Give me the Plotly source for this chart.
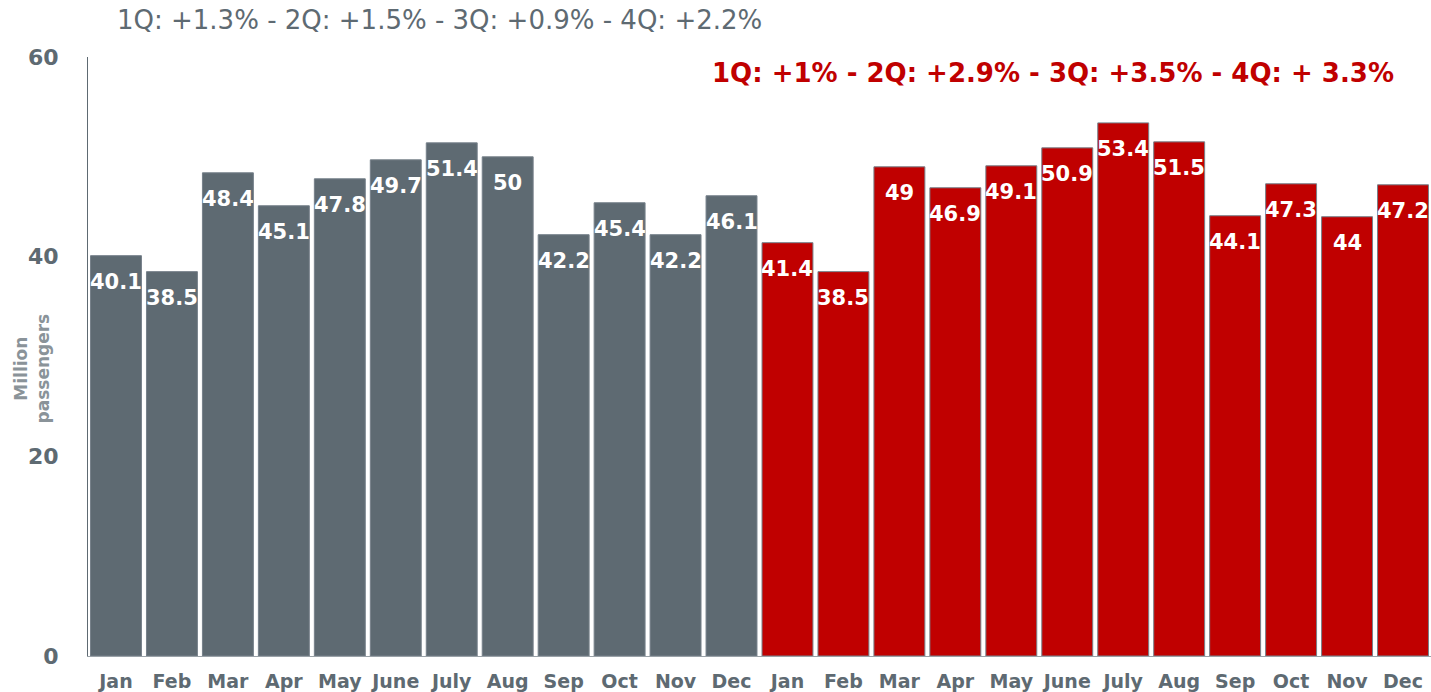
import plotly.graph_objects as go

months = ["Jan", "Feb", "Mar", "Apr", "May", "June", "July", "Aug", "Sep", "Oct", "Nov", "Dec"]
prev_year = [40.1, 38.5, 48.4, 45.1, 47.8, 49.7, 51.4, 50, 42.2, 45.4, 42.2, 46.1]
curr_year = [41.4, 38.5, 49, 46.9, 49.1, 50.9, 53.4, 51.5, 44.1, 47.3, 44, 47.2]
prev_note = "1Q: +1.3% - 2Q: +1.5% - 3Q: +0.9% - 4Q: +2.2%"
curr_note = "1Q: +1% <b>-</b> 2Q: +2.9% - 3Q: +3.5% - 4Q: + 3.3%"
y_title = "Million<br>passengers"

GREY = "#5e6a72"
RED = "#c00000"
FONT = "DejaVu Sans"
PLOT_W = 1431 - 88

x_prev = list(range(len(months)))
x_curr = [i + len(months) for i in range(len(months))]

fig = go.Figure()
annotations = []
for xs, ys, col in [(x_prev, prev_year, GREY), (x_curr, curr_year, RED)]:
    fig.add_trace(go.Bar(
        x=xs, y=ys, width=0.91,
        marker=dict(color=col, line=dict(color="#76808a", width=1)),
        showlegend=False, hoverinfo="y",
    ))
    # value labels sitting just inside the top of each bar
    for xv, yv in zip(xs, ys):
        annotations.append(dict(
            x=xv, y=yv, xref="x", yref="y", text=f"{yv:g}",
            showarrow=False, yanchor="top", yshift=-12,
            font=dict(color="white", size=21, family=FONT, weight="bold"),
        ))

annotations += [
    dict(text=prev_note, xref="paper", yref="paper", x=27 / PLOT_W, y=1, xanchor="left",
         yanchor="middle", yshift=37, showarrow=False,
         font=dict(size=26, color=GREY, family=FONT)),
    dict(text=curr_note, xref="paper", yref="paper", x=1, y=1, xanchor="right",
         yanchor="middle", xshift=-35, yshift=-16, showarrow=False,
         font=dict(size=26, color=RED, family=FONT, weight="bold")),
    # rotated axis title placed between the tick labels and the page edge
    dict(text=y_title, xref="paper", yref="paper", x=-56 / PLOT_W, y=0.48,
         xanchor="center", yanchor="middle", textangle=-90, showarrow=False,
         font=dict(size=17, color="#8a9399", family=FONT, weight="bold")),
]

fig.update_layout(
    width=1431, height=692,
    margin=dict(l=88, r=0, t=57, b=36),
    paper_bgcolor="white", plot_bgcolor="white",
    barmode="overlay",
    font=dict(family=FONT, color=GREY),
    xaxis=dict(
        range=[-0.5, 23.5], automargin=False,
        tickvals=x_prev + x_curr, ticktext=months + months,
        tickfont=dict(size=19, color=GREY, family=FONT, weight="bold"),
        showgrid=False, zeroline=False, showline=True, linecolor="#9aa2a8", linewidth=1,
        ticks="", ticklabelstandoff=8,
    ),
    yaxis=dict(
        range=[0, 60], tickvals=[0, 20, 40, 60], automargin=False,
        tickfont=dict(size=22, color=GREY, family=FONT, weight="bold"),
        showgrid=False, zeroline=False, showline=True, linecolor=GREY, linewidth=1,
        ticks="", ticklabelstandoff=24,
    ),
    annotations=annotations,
)

fig.write_html("out.html")
